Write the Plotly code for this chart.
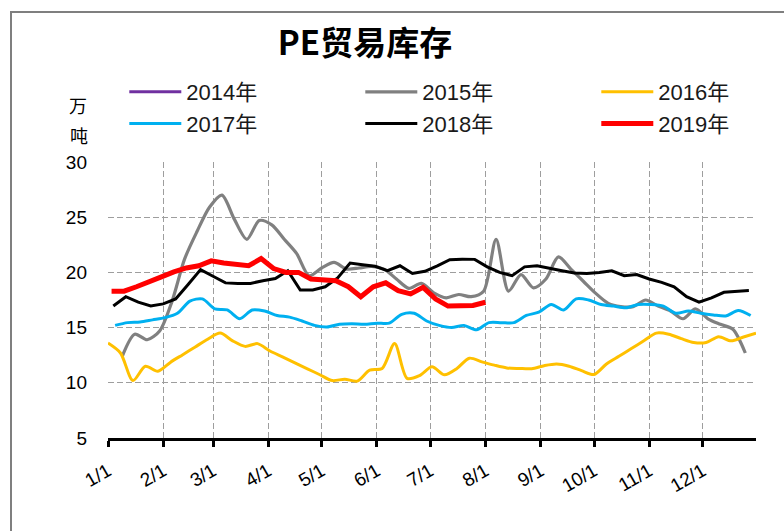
import plotly.graph_objects as go
import pandas as pd

# ---------------- data (weekly readings, 万吨) ----------------
years = ["2014年", "2015年", "2016年", "2017年", "2018年", "2019年"]
colors = ["#7030A0", "#808080", "#FFC000", "#00B0F0", "#000000", "#FF0000"]

start_2015 = "2019-01-09"
values_2015 = [12.4, 14.4, 13.9, 14.7, 17.4, 21.2, 23.7, 25.9, 27.0, 24.8,
               23.0, 24.7, 24.3, 23.0, 21.7, 19.7, 20.4, 20.9, 20.3, 20.4,
               20.55, 20.3, 19.4, 18.55, 19.0, 18.15, 17.7, 18.0, 17.8, 18.3,
               23.0, 18.3, 19.8, 18.6, 19.4, 21.4, 20.3, 19.2, 18.1, 17.2,
               16.9, 16.9, 17.5, 16.95, 16.5, 15.8, 16.7, 15.8, 15.3, 14.85,
               12.7]

start_2016 = "2019-01-01"
values_2016 = [13.6, 12.7, 10.2, 11.5, 11.05, 11.85, 12.55, 13.25, 13.95, 14.5,
               13.8, 13.3, 13.55, 12.88, 12.35, 11.8, 11.27, 10.73, 10.2, 10.33,
               10.15, 11.15, 11.3, 13.55, 10.4, 10.65, 11.45, 10.72, 11.3, 12.23,
               11.9, 11.6, 11.35, 11.3, 11.28, 11.55, 11.7, 11.5, 11.1, 10.75,
               11.7, 12.4, 13.1, 13.8, 14.5, 14.4, 14.0, 13.65, 13.65, 14.18,
               13.8, 14.15, 14.5]

start_2017 = "2019-01-05"
values_2017 = [15.2, 15.45, 15.5, 15.7, 15.9, 16.3, 17.4, 17.6, 16.7, 16.6,
               15.8, 16.6, 16.5, 16.1, 15.95, 15.6, 15.2, 15.05, 15.3, 15.35,
               15.3, 15.4, 15.4, 16.2, 16.3, 15.6, 15.2, 15.0, 15.2, 14.8,
               15.45, 15.45, 15.45, 16.1, 16.4, 17.1, 16.6, 17.6, 17.5, 17.1,
               16.95, 16.8, 17.1, 17.1, 16.95, 16.3, 16.5, 16.3, 16.15, 16.05,
               16.55, 16.1]

start_2018 = "2019-01-04"
values_2018 = [16.96, 17.8, 17.3, 16.96, 17.15, 17.6, 18.9, 20.25, 19.65, 19.05,
               19.0, 19.0, 19.25, 19.45, 20.15, 18.4, 18.4, 18.7, 19.5, 20.85,
               20.7, 20.55, 20.15, 20.6, 19.9, 20.1, 20.6, 21.15, 21.2, 21.18,
               20.5, 20.0, 19.7, 20.5, 20.6, 20.35, 20.15, 19.95, 19.9, 20.0,
               20.15, 19.7, 19.8, 19.4, 19.1, 18.7, 17.8, 17.3, 17.7, 18.2,
               18.3, 18.35]

start_2019 = "2019-01-03"
values_2019 = [18.3, 18.3, 18.7, 19.2, 19.6, 20.05, 20.4, 20.6, 21.05, 20.85,
               20.7, 20.6, 21.25, 20.35, 20.0, 20.0, 19.4, 19.3, 19.25, 18.7,
               17.8, 18.7, 19.06, 18.35, 18.05, 18.65, 17.6, 16.95, 16.95, 17.0,
               17.3]

month_ticks = ["2019-%02d-01" % m for m in range(1, 13)]
month_labels = ["%d/1" % m for m in range(1, 13)]

# ---------------- figure ----------------
series = [
    (None, None),
    (start_2015, values_2015),
    (start_2016, values_2016),
    (start_2017, values_2017),
    (start_2018, values_2018),
    (start_2019, values_2019),
]
shapes_kind = ["linear", "spline", "spline", "spline", "linear", "linear"]
widths = [3, 3.2, 3, 3, 3, 5]

fig = go.Figure()
for name, col, (start, vals), shp, w in zip(years, colors, series, shapes_kind, widths):
    if vals is None:
        x = ["2019-01-01"]
        y = [None]
    else:
        x = pd.date_range(start, periods=len(vals), freq="7D")
        y = vals
    fig.add_trace(go.Scatter(
        x=x, y=y, name=name, mode="lines",
        line=dict(color=col, width=w, shape=shp, smoothing=0.8 if shp == "spline" else None),
        connectgaps=False,
    ))

L, R, T, B = 108, 28, 162, 93
W, H = 784, 531
pw, ph = W - L - R, H - T - B


def px2x(px):
    return (px - L) / pw


def py2y(py):
    return (H - B - py) / ph


grid_dash = "6px,3px"
fig.update_layout(
    width=W, height=H,
    margin=dict(l=L, r=R, t=T, b=B, autoexpand=False),
    paper_bgcolor="white", plot_bgcolor="white",
    showlegend=True,
    title=dict(
        text="<b>PE贸易库存</b>",
        font=dict(family="Noto Sans CJK SC", size=33, color="black"),
        x=365 / W, xref="container", xanchor="center",
        y=1 - 43 / H, yref="container", yanchor="middle",
    ),
    legend=dict(
        orientation="h",
        x=px2x(107.3), xanchor="left",
        y=py2y(54), yanchor="top",
        bgcolor="rgba(0,0,0,0)", bordercolor="rgba(0,0,0,0)", borderwidth=17,
        itemwidth=52, entrywidth=169, entrywidthmode="pixels",
        font=dict(family="Liberation Sans, Noto Sans CJK SC", size=22, color="#1a1a1a"),
        traceorder="normal",
    ),
    xaxis=dict(
        type="date",
        range=["2019-01-01", "2019-12-31"],
        tickmode="array", tickvals=month_ticks, ticktext=month_labels,
        tickangle=-30,
        tickfont=dict(family="Liberation Sans", size=19, color="black"),
        ticks="outside", ticklen=6, tickwidth=2.5, tickcolor="black",
        ticklabelstandoff=6,
        showline=True, linecolor="black", linewidth=2.5,
        showgrid=True, gridcolor="#9e9e9e", gridwidth=1.3, griddash=grid_dash,
        zeroline=False,
    ),
    yaxis=dict(
        range=[5, 30], tickmode="linear", tick0=5, dtick=5,
        tickfont=dict(family="Liberation Sans", size=19, color="black"),
        ticks="", ticklabelstandoff=20,
        showline=False,
        showgrid=True, gridcolor="#9e9e9e", gridwidth=1.3, griddash=grid_dash,
        zeroline=False,
    ),
    annotations=[
        dict(text="万", x=px2x(67), y=py2y(90), xref="paper", yref="paper",
             showarrow=False, font=dict(family="Noto Sans CJK SC", size=18, color="black")),
        dict(text="吨", x=px2x(68), y=py2y(120), xref="paper", yref="paper",
             showarrow=False, font=dict(family="Noto Sans CJK SC", size=18, color="black")),
    ],
    shapes=[
        dict(type="rect", xref="paper", yref="paper",
             x0=px2x(11), x1=px2x(900), y0=py2y(700), y1=py2y(12),
             line=dict(color="#7f7f7f", width=2), fillcolor="rgba(0,0,0,0)", layer="below"),
    ],
)

fig.write_html("out.html", config={"displayModeBar": False},
               post_script="document.body.style.margin='0px';")
